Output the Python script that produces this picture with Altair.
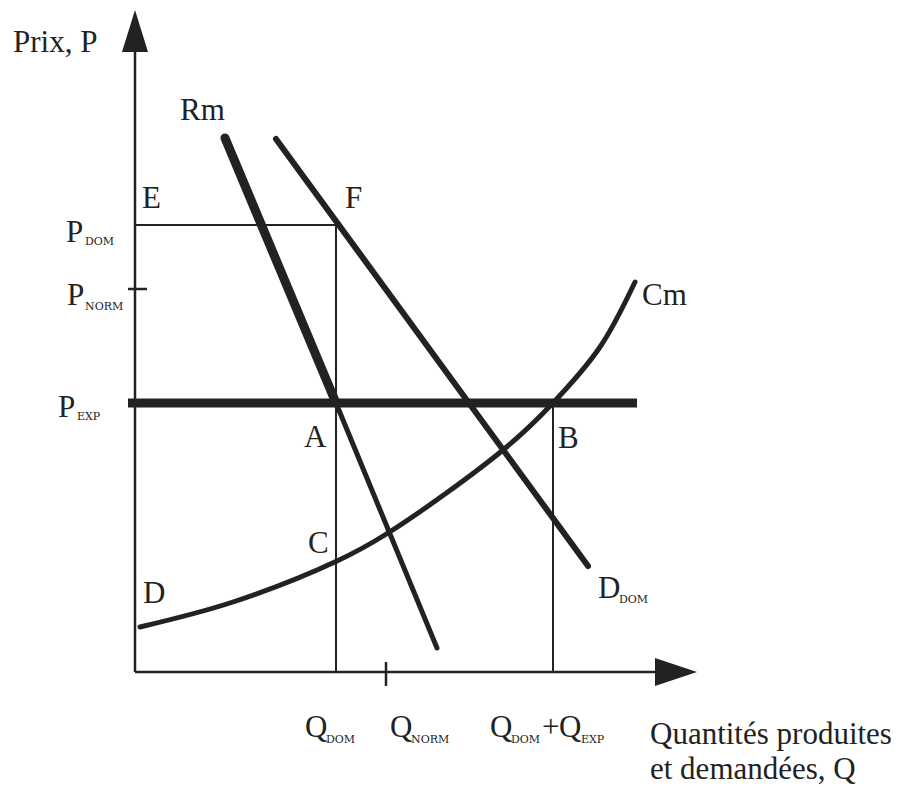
import altair as alt
import pandas as pd

# ---- values (Q and P units) ----
q_names = ["Q_DOM", "Q_NORM", "Q_DOM+Q_EXP"]
q_values = [201, 251, 418]
p_names = ["P_DOM", "P_NORM", "P_EXP"]
p_values = [447, 383, 269]

rm_q = [90, 201, 302]
rm_p = [534, 269, 24]
ddom_q = [141, 453]
ddom_p = [533, 106]
cm_q = [5, 98, 202, 253, 368, 417, 465, 500]
cm_p = [45, 70, 111, 139, 222, 268, 325, 390]

INK = "#222222"
FONT = "Liberation Serif"
SUBFONT = "DejaVu Serif"
q_dom, q_norm, q_tot = q_values
p_dom, p_norm, p_exp = p_values

# ---- segment tables built from the values ----
thin = pd.DataFrame([
    dict(q=0, p=0, q2=0, p2=625, w=2.5),            # price axis
    dict(q=0, p=0, q2=525, p2=0, w=2.5),            # quantity axis
    dict(q=0, p=p_dom, q2=q_dom, p2=p_dom, w=2),    # E-F
    dict(q=q_dom, p=0, q2=q_dom, p2=p_dom, w=2),    # Q_DOM vertical
    dict(q=q_tot, p=0, q2=q_tot, p2=p_exp, w=2),    # B vertical
    dict(q=-7, p=p_norm, q2=12, p2=p_norm, w=2.5),  # P_NORM tick
    dict(q=q_norm, p=-14, q2=q_norm, p2=10, w=2.5), # Q_NORM tick
    dict(q=-7, p=p_exp, q2=cm_q[-1] + 2, p2=p_exp, w=9),  # export price line
])

curves = pd.DataFrame([
    dict(q=rm_q[0], p=rm_p[0], q2=rm_q[1], p2=rm_p[1], w=9),
    dict(q=rm_q[1], p=rm_p[1], q2=rm_q[2], p2=rm_p[2], w=5),
    dict(q=ddom_q[0], p=ddom_p[0], q2=ddom_q[1], p2=ddom_p[1], w=6),
])

cm = pd.DataFrame({"q": cm_q, "p": cm_p})

xs = alt.Scale(domain=[-127, 769], nice=False, zero=False)
ys = alt.Scale(domain=[-99, 664], nice=False, zero=False)

def X(f="q"):
    return alt.X(f"{f}:Q", scale=xs, axis=None)

def Y(f="p"):
    return alt.Y(f"{f}:Q", scale=ys, axis=None)

thin_layer = alt.Chart(thin).mark_rule(color=INK, strokeCap="butt").encode(
    x=X(), y=Y(), x2="q2:Q", y2="p2:Q",
    strokeWidth=alt.StrokeWidth("w:Q", scale=None),
)
curve_layer = alt.Chart(curves).mark_rule(color=INK, strokeCap="round").encode(
    x=X(), y=Y(), x2="q2:Q", y2="p2:Q",
    strokeWidth=alt.StrokeWidth("w:Q", scale=None),
)
cm_layer = alt.Chart(cm).mark_line(
    color=INK, strokeWidth=5, interpolate="catmull-rom", strokeCap="round"
).encode(x=X(), y=Y())

arrows = pd.DataFrame([
    dict(q=0, p=641, s="M0,-1L0.62,1L-0.62,1Z"),
    dict(q=541, p=0, s="M1,0L-1,-0.67L-1,0.67Z"),
])
arrow_layer = alt.Chart(arrows).mark_point(
    filled=True, size=1764, opacity=1, color=INK, strokeWidth=0
).encode(x=X(), y=Y(), shape=alt.Shape("s:N", scale=None))

# ---- labels ----
BIG, SUB = 31, 11
labels = pd.DataFrame([
    dict(t="Prix, P", q=-122, p=620, fs=BIG, f=FONT),
    dict(t="Rm", q=45, p=552, fs=BIG, f=FONT),
    dict(t="E", q=7, p=464, fs=BIG, f=FONT),
    dict(t="F", q=210, p=464, fs=BIG, f=FONT),
    dict(t="P", q=-69, p=430, fs=BIG, f=FONT),
    dict(t="DOM", q=-50, p=427, fs=SUB, f=SUBFONT),
    dict(t="P", q=-68, p=367, fs=BIG, f=FONT),
    dict(t="NORM", q=-50, p=362, fs=SUB, f=SUBFONT),
    dict(t="P", q=-77, p=255, fs=BIG, f=FONT),
    dict(t="EXP", q=-58, p=252, fs=SUB, f=SUBFONT),
    dict(t="A", q=169, p=225, fs=BIG, f=FONT),
    dict(t="B", q=423, p=224, fs=BIG, f=FONT),
    dict(t="C", q=173, p=119, fs=BIG, f=FONT),
    dict(t="D", q=8, p=69, fs=BIG, f=FONT),
    dict(t="Cm", q=507, p=367, fs=BIG, f=FONT),
    dict(t="D", q=463, p=74, fs=BIG, f=FONT),
    dict(t="DOM", q=484, p=69, fs=SUB, f=SUBFONT),
    dict(t="Q", q=170, p=-65, fs=BIG, f=FONT),
    dict(t="DOM", q=191, p=-71, fs=SUB, f=SUBFONT),
    dict(t="Q", q=255, p=-65, fs=BIG, f=FONT),
    dict(t="NORM", q=276, p=-71, fs=SUB, f=SUBFONT),
    dict(t="Q", q=355, p=-65, fs=BIG, f=FONT),
    dict(t="DOM", q=376, p=-71, fs=SUB, f=SUBFONT),
    dict(t="+", q=407, p=-65, fs=BIG, f=FONT),
    dict(t="Q", q=424, p=-65, fs=BIG, f=FONT),
    dict(t="EXP", q=446, p=-71, fs=SUB, f=SUBFONT),
    dict(t="Quantités produites", q=515, p=-72, fs=BIG, f=FONT),
    dict(t="et demandées, Q", q=515, p=-107, fs=BIG, f=FONT),
])

text_layers = []
for fnt in [FONT, SUBFONT]:
    sub = labels[labels.f == fnt]
    text_layers.append(
        alt.Chart(sub).mark_text(
            align="left", baseline="alphabetic", font=fnt, color=INK
        ).encode(x=X(), y=Y(), text="t:N", size=alt.Size("fs:Q", scale=None))
    )

chart = alt.layer(
    thin_layer, curve_layer, cm_layer, arrow_layer, *text_layers
).properties(
    width=896, height=763,
    autosize=alt.AutoSizeParams(type="none"),
    padding={"left": 0, "right": 0, "top": 0, "bottom": 14},
    background="white",
).configure_view(stroke=None)

chart.save("out.html", embed_options={"renderer": "svg", "actions": False})
